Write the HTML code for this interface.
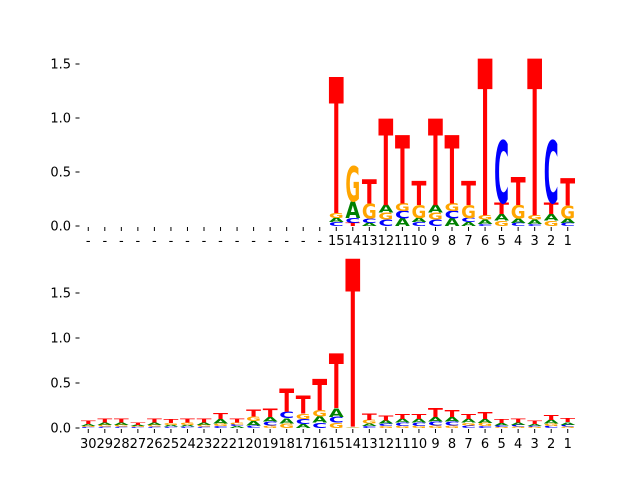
<!DOCTYPE html>
<html><head><meta charset="utf-8"><style>
html,body{margin:0;padding:0;background:#fff;}
svg text{font-family:"DejaVu Sans","Liberation Sans",sans-serif;}
</style></head><body>
<svg id="chart" width="640" height="480" viewBox="0 0 640 480" xmlns="http://www.w3.org/2000/svg">
<rect width="640" height="480" fill="#fff"/>
<g id="top"></g>
<g id="bot"></g>
</svg>
<script>
const topLabels=["-","-","-","-","-","-","-","-","-","-","-","-","-","-","-","15","14","13","12","11","10","9","8","7","6","5","4","3","2","1"];
const z15=[0,0,0,0,0,0,0,0,0,0,0,0,0,0,0];
const topA=z15.concat([0.04,0.15,0.03,0.07,0.07,0.04,0.07,0.07,0.035,0.04,0.06,0.04,0.04,0.06,0.04]);
const topC=z15.concat([0.035,0.045,0.04,0.06,0.07,0.035,0.06,0.07,0.04,0.02,0.575,0.03,0.02,0.575,0.03]);
const topG=z15.concat([0.045,0.325,0.14,0.065,0.07,0.12,0.065,0.07,0.12,0.04,0.05,0.125,0.04,0.05,0.12]);
const topT=z15.concat([1.26,0.03,0.225,0.8,0.63,0.22,0.8,0.63,0.22,1.45,0.105,0.26,1.45,0.105,0.25]);
const topTicks=[0,0.5,1.0,1.5];
const botLabels=["30","29","28","27","26","25","24","23","22","21","20","19","18","17","16","15","14","13","12","11","10","9","8","7","6","5","4","3","2","1"];
const botA=[0.02,0.025,0.025,0.015,0.025,0.02,0.02,0.025,0.05,0.02,0.05,0.05,0.06,0.045,0.07,0.095,0.005,0.03,0.035,0.04,0.04,0.05,0.05,0.04,0.045,0.025,0.025,0.02,0.04,0.03];
const botC=[0.01,0.015,0.015,0.01,0.015,0.015,0.015,0.015,0.02,0.02,0.03,0.04,0.07,0.055,0.06,0.065,0.003,0.02,0.03,0.035,0.035,0.04,0.04,0.03,0.02,0.02,0.02,0.015,0.025,0.02];
const botG=[0.015,0.02,0.02,0.01,0.02,0.02,0.025,0.02,0.03,0.02,0.05,0.03,0.05,0.06,0.07,0.06,0.007,0.04,0.02,0.025,0.025,0.03,0.03,0.03,0.035,0.01,0.015,0.01,0.025,0.015];
const botT=[0.035,0.04,0.04,0.03,0.04,0.045,0.04,0.04,0.065,0.04,0.08,0.09,0.26,0.2,0.345,0.61,1.865,0.07,0.055,0.055,0.06,0.1,0.08,0.06,0.08,0.045,0.04,0.035,0.06,0.045];
const botTicks=[0,0.5,1.0,1.5];

const NS="http://www.w3.org/2000/svg";
const colors={A:"#008000",C:"#0000ff",G:"#ffa500",T:"#ff0000"};
const adv={A:77.4,C:73.4,G:82.1,T:68.2};
function mk(tag,attrs,parent){const e=document.createElementNS(NS,tag);for(const k in attrs)e.setAttribute(k,attrs[k]);parent.appendChild(e);return e;}
function panel(g,labels,A,C,G,T,ticks,y0,ppu,labelY){
  const left=80,right=576,n=labels.length,step=(right-left)/n;
  const xs=i=>left+step*(i+0.5), ys=v=>y0-v*ppu;
  ticks.forEach(t=>{
    const l=mk('line',{x1:75.5,x2:79.5,y1:ys(t),y2:ys(t),stroke:'#000','stroke-width':1},g);
    
    
    const tx=mk('text',{x:71,y:ys(t)+4.5,'font-size':13,'text-anchor':'end',fill:'#000'},g);
    tx.textContent=t.toFixed(1);
    
    
  });
  for(let i=0;i<n;i++){
    const x=xs(i);
    const tk=mk('line',{x1:x,x2:x,y1:y0+1,y2:y0+5,stroke:'#000','stroke-width':1},g);
    
    
    const lb=mk('text',{x:x,y:labelY,'font-size':13,'text-anchor':'middle',fill:'#000'},g);
    lb.textContent=labels[i];
    
    
    const stack=[['A',A[i]],['C',C[i]],['G',G[i]],['T',T[i]]].filter(d=>d[1]>0).sort((a,b)=>a[1]-b[1]);
    let base=0;
    const w=step*0.9;
    stack.forEach(([L,v])=>{
      const yb=ys(base), h=v*ppu;
      base+=v;
      if(h<0.3) return;
      const sx=w/adv[L], sy=h/72.9;
      const t=mk('text',{x:0,y:0,'font-size':100,'font-weight':'bold','text-anchor':'middle',fill:colors[L],
        transform:`translate(${x},${yb}) scale(${sx},${sy})`},g);
      t.textContent=L;
      
      
    });
  }
}
panel(document.getElementById('top'),topLabels,topA,topC,topG,topT,topTicks,226,108,245);
panel(document.getElementById('bot'),botLabels,botA,botC,botG,botT,botTicks,428,90,448);
</script>
</body></html>
